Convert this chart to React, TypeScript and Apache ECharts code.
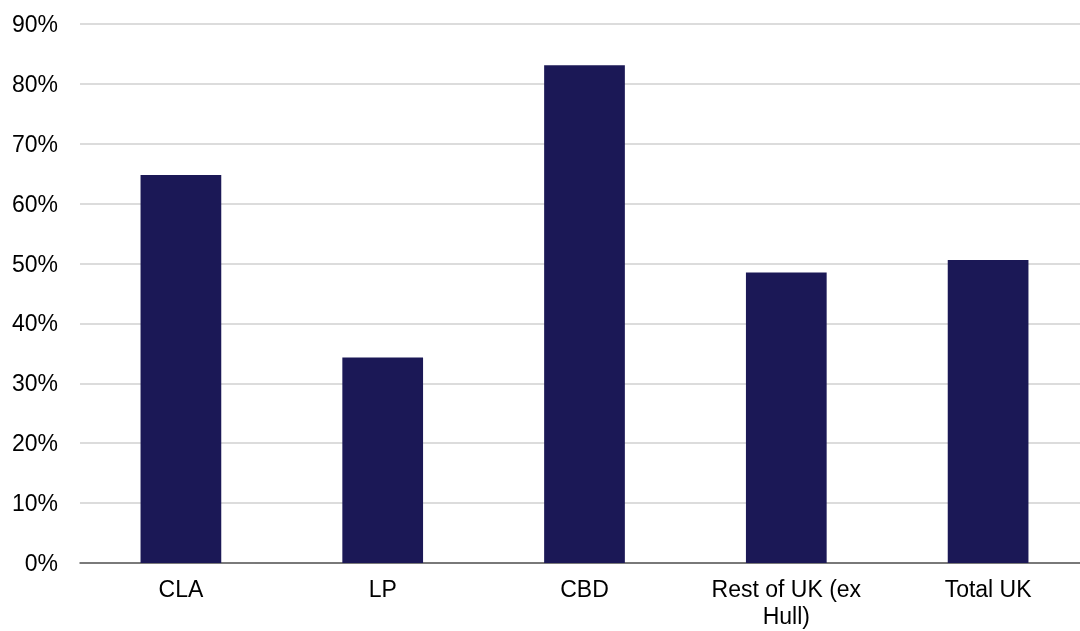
import React, { useEffect, useRef } from "react";
import * as echarts from "echarts";

const categories = ["CLA", "LP", "CBD", "Rest of UK (ex\nHull)", "Total UK"];
const values = [64.8, 34.3, 83.1, 48.5, 50.6];
const yTicks = { min: 0, max: 90, interval: 10 };

export default function App() {
  const ref = useRef<HTMLDivElement>(null);
  useEffect(() => {
    if (!ref.current) return;
    const chart = echarts.init(ref.current, undefined, { renderer: "svg" });
    chart.setOption({
      animation: false,
      grid: {
        left: 80,
        top: 24,
        width: 1009,
        height: 539,
        containLabel: false,
        outerBoundsMode: "none",
      },
      xAxis: {
        type: "category",
        data: categories,
        axisTick: { show: false },
        axisLine: { lineStyle: { color: "#595959", width: 1.5 } },
        axisLabel: {
          color: "#000",
          fontSize: 23,
          fontFamily: "Arial, 'Liberation Sans', sans-serif",
          margin: 13,
          lineHeight: 26.5,
          interval: 0,
        },
      },
      yAxis: {
        type: "value",
        min: yTicks.min,
        max: yTicks.max,
        interval: yTicks.interval,
        axisLine: { show: false },
        axisTick: { show: false },
        splitLine: { lineStyle: { color: "#d0d0d0", width: 1.5 } },
        axisLabel: {
          formatter: "{value}%",
          color: "#000",
          fontSize: 23,
          fontFamily: "Arial, 'Liberation Sans', sans-serif",
          margin: 22,
        },
      },
      series: [
        {
          type: "bar",
          data: values,
          barWidth: "40%",
          itemStyle: { color: "#1b1856" },
        },
      ],
    });
    return () => chart.dispose();
  }, []);
  return (
    <div
      style={{
        position: "fixed",
        left: 0,
        top: 0,
        width: 1080,
        height: 631,
        overflow: "hidden",
      }}
    >
      <div ref={ref} style={{ width: 1080, height: 631 }} />
    </div>
  );
}
